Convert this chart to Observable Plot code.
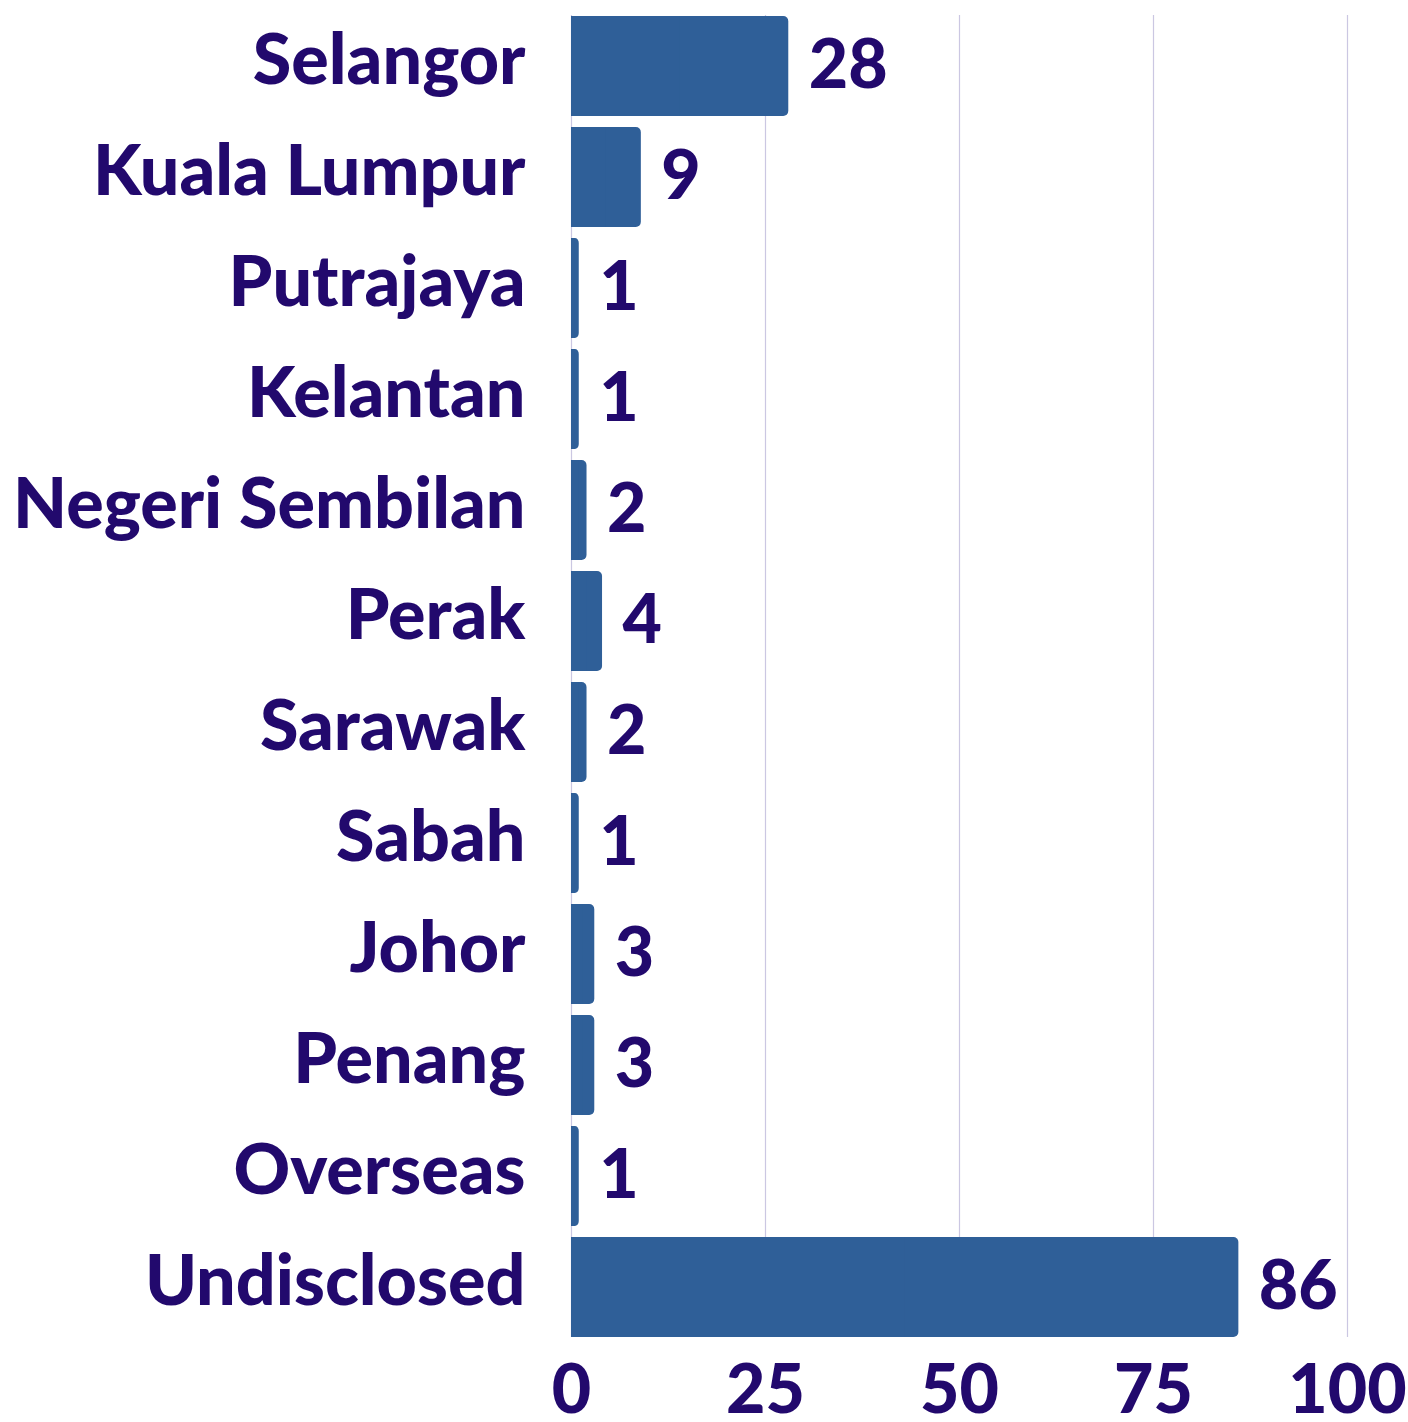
<!DOCTYPE html>
<html>
<head>
<meta charset="utf-8">
<script src="https://cdn.jsdelivr.net/npm/d3@7"></script>
<script src="https://cdn.jsdelivr.net/npm/@observablehq/plot@0.6"></script>
<style>
  html, body { margin: 0; padding: 0; background: #fff; }
  #chart svg { display: block; }
</style>
</head>
<body>
<div id="chart"></div>
<script>
const categories = ["Selangor", "Kuala Lumpur", "Putrajaya", "Kelantan", "Negeri Sembilan", "Perak", "Sarawak", "Sabah", "Johor", "Penang", "Overseas", "Undisclosed"];
const values = [28, 9, 1, 1, 2, 4, 2, 1, 3, 3, 1, 86];
const xTicks = [0, 25, 50, 75, 100];

const data = categories.map((c, i) => ({category: c, value: values[i]}));

const textColor = "#22096d";
const barColor = "#2f5f98";
const gridColor = "#cbc7e2";
const font = "Lato, 'Open Sans', sans-serif";

const chart = Plot.plot({
  width: 1408,
  height: 1422,
  marginLeft: 571,
  marginRight: 61,
  marginTop: 4,
  marginBottom: 74,
  style: {fontFamily: font, fontWeight: 900, color: textColor, background: "#fff"},
  x: {domain: [0, 100], ticks: xTicks, label: null},
  y: {domain: categories, padding: 0.1, label: null},
  marks: [
    Plot.ruleX(xTicks, {stroke: gridColor, strokeWidth: 1.2, insetTop: 11, insetBottom: 11}),
    Plot.barX(data, {y: "category", x: "value", fill: barColor, rx: 5}),
    Plot.barX(data, {y: "category", x1: 0, x2: d => d.value / 2, fill: barColor}),
    Plot.text(data, {y: "category", x: "value", text: d => String(d.value), textAnchor: "start", dx: 20, fill: textColor, fontSize: 68, fontWeight: 900}),
    Plot.axisY({tickSize: 0, tickPadding: 46, fontSize: 70, fontWeight: 900, fill: textColor, dy: -5}),
    Plot.axisX(xTicks, {tickSize: 0, tickPadding: 16, fontSize: 68, fontWeight: 900, fill: textColor})
  ]
});
document.getElementById("chart").appendChild(chart);
</script>
</body>
</html>
